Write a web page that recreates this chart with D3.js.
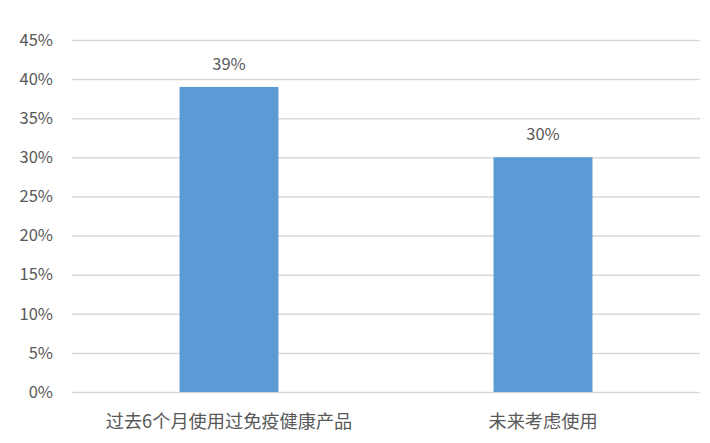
<!DOCTYPE html>
<html>
<head>
<meta charset="utf-8">
<script src="https://cdn.jsdelivr.net/npm/d3@7"></script>
<style>
body {
  margin: 0;
  background-color: white;
}
text {
  font-family: "Noto Sans CJK SC", "Noto Sans", sans-serif;
  fill: #595959;
}
</style>
</head>
<body>
<script>
const categories = ["过去6个月使用过免疫健康产品", "未来考虑使用"];
const values = [39, 30];
const yTicks = [0, 5, 10, 15, 20, 25, 30, 35, 40, 45];

const svg = d3.select("body")
              .append("svg")
              .attr("width", 710)
              .attr("height", 443);

const margin = {top: 40, right: 10, bottom: 51, left: 72};
const width = 710 - margin.left - margin.right;
const height = 443 - margin.top - margin.bottom;

const g = svg.append("g")
             .attr("transform", `translate(${margin.left}, ${margin.top})`);

const xScale = d3.scaleBand()
                 .domain(categories)
                 .range([0, width])
                 .paddingInner(0.685)
                 .paddingOuter(0.3425);

const yScale = d3.scaleLinear()
                 .domain([0, 45])
                 .range([height, 0]);

// gridlines + tick labels
const yAxis = d3.axisLeft(yScale)
                .tickValues(yTicks)
                .tickSize(-width)
                .tickPadding(19)
                .tickFormat(d => d + "%");

const ya = g.append("g").call(yAxis);
ya.select(".domain").remove();
ya.selectAll("line").attr("stroke", "#d9d9d9").attr("stroke-width", 1.5);
ya.selectAll("text").attr("font-size", 16.5).style("fill", "#595959");

g.selectAll(".bar")
 .data(values)
 .enter()
 .append("rect")
 .attr("class", "bar")
 .attr("x", (d, i) => xScale(categories[i]))
 .attr("y", d => yScale(d))
 .attr("width", xScale.bandwidth())
 .attr("height", d => height - yScale(d))
 .attr("fill", "#5b9bd5");

g.selectAll(".val")
 .data(values)
 .enter()
 .append("text")
 .attr("class", "val")
 .attr("x", (d, i) => xScale(categories[i]) + xScale.bandwidth() / 2)
 .attr("y", d => yScale(d) - 17)
 .attr("text-anchor", "middle")
 .attr("font-size", 16.5)
 .text(d => d + "%");

const xAxis = d3.axisBottom(xScale).tickSize(0).tickPadding(23);
const xa = g.append("g")
            .attr("transform", `translate(0, ${height})`)
            .call(xAxis);
xa.select(".domain").remove();
xa.selectAll("text").attr("font-size", 18.2).style("fill", "#595959");
</script>
</body>
</html>
